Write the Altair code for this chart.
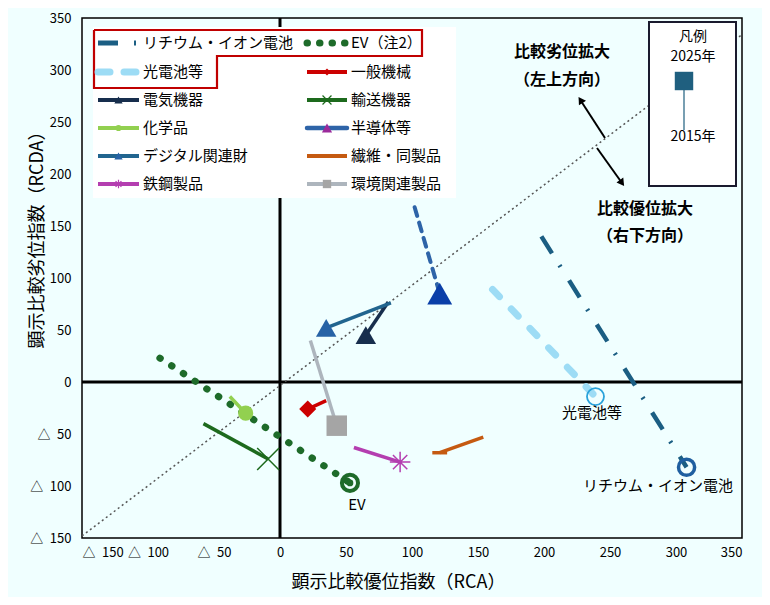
import altair as alt
import pandas as pd

# 2015 -> 2025 positions (RCA, RCDA)
series = ["リチウム・イオン電池", "光電池等", "EV", "一般機械", "電気機器", "輸送機器",
          "化学品", "半導体等", "デジタル関連財", "繊維・同製品", "鉄鋼製品", "環境関連製品"]
rca_2015 = [198, 161, -91, 35, 82, -58, -38, 102, 84, 154, 56, 23]
rcda_2015 = [140, 89, 23, -18, 77, -40, -14, 168, 76, -53, -63, 40]
rca_2025 = [308, 239, 53, 21, 65, -9, -26, 121, 35, 121, 91, 43]
rcda_2025 = [-82, -14, -97, -26, 45, -74, -30, 85, 52, -68, -77, -42]

legend_labels = ["リチウム・イオン電池", "光電池等", "EV（注2）", "一般機械", "電気機器", "輸送機器",
                 "化学品", "半導体等", "デジタル関連財", "繊維・同製品", "鉄鋼製品", "環境関連製品"]
legend_slot = [(0, 0), (1, 0), (0, 1), (1, 1), (2, 0), (2, 1),
               (3, 0), (3, 1), (4, 0), (4, 1), (5, 0), (5, 1)]

tick_values = list(range(-150, 351, 50))
FONT = "Noto Sans CJK JP"

# line / marker styles per series
X_PATH = "M-1,-1L1,1M-1,1L1,-1"
STAR_PATH = "M-1,0L1,0M0,-1L0,1M-0.7,-0.7L0.7,0.7M-0.7,0.7L0.7,-0.7"
DASH_PATH = "M-1,0L1,0"
style = {
    "リチウム・イオン電池": dict(color="#1B5E83", width=4.5, dash=[20, 14, 2, 16], cap="butt",
                         shape="circle", mcolor="#1F5FA0", size=260, filled=False, msw=3.5,
                         ldash=[20, 16, 2, 60]),
    "光電池等": dict(color="#9DDCF5", width=7, dash=[10, 17], cap="round",
                 shape="circle", mcolor="#2AA2DA", size=290, filled=False, msw=1.8,
                 ldash=[12, 14]),
    "EV": dict(color="#1E6B2A", width=7, dash=[0.5, 13.5], cap="round",
               shape="circle", mcolor="#1E6B2A", size=260, filled=False, msw=4,
               ldash=[0.5, 12]),
    "一般機械": dict(color="#CC0000", width=3.5, dash=None, cap="butt",
                 shape="diamond", mcolor="#CC0000", size=290, filled=True, msw=1),
    "電気機器": dict(color="#172E4D", width=3.5, dash=None, cap="butt",
                 shape="triangle-up", mcolor="#172E4D", size=420, filled=True, msw=1),
    "輸送機器": dict(color="#1D6A1D", width=3.5, dash=None, cap="butt",
                 shape=X_PATH, mcolor="#1D6A1D", size=480, filled=False, msw=1.5),
    "化学品": dict(color="#92D050", width=3.5, dash=None, cap="butt",
                shape="circle", mcolor="#92D050", size=230, filled=True, msw=1),
    "半導体等": dict(color="#2E64A8", width=4, dash=[9, 7], cap="round",
                 shape="triangle-up", mcolor="#0A3FA8", size=620, filled=True, msw=1,
                 lmcolor="#9B2A9B", ldash=None),
    "デジタル関連財": dict(color="#21658F", width=3.5, dash=None, cap="butt",
                    shape="triangle-up", mcolor="#2763A6", size=420, filled=True, msw=1),
    "繊維・同製品": dict(color="#C55A11", width=3.5, dash=None, cap="butt",
                   shape=DASH_PATH, mcolor="#C55A11", size=220, filled=False, msw=3.5),
    "鉄鋼製品": dict(color="#B43EB0", width=3.5, dash=None, cap="butt",
                 shape=STAR_PATH, mcolor="#B43EB0", size=420, filled=False, msw=1.5),
    "環境関連製品": dict(color="#ADB5BD", width=3.5, dash=None, cap="butt",
                   shape="square", mcolor="#A5A5A5", size=420, filled=True, msw=1),
}


# page pixel -> data coords (plot area 82..742 x 18..538)
def fx(px):
    return (px - 82) * 500 / 660 - 150


def fy(py):
    return 350 - (py - 18) * 500 / 520


lab_expr = "datum.value < 0 ? '△\u2002' + abs(datum.value) : datum.value"
xscale = alt.Scale(domain=[-150, 350], nice=False, zero=False)
yscale = alt.Scale(domain=[-150, 350], nice=False, zero=False)
xaxis = alt.Axis(values=tick_values, labelExpr=lab_expr, grid=False, ticks=False, domain=False,
                 labelFontSize=13, labelPadding=8, labelFont=FONT, labelColor="black",
                 title="顕示比較優位指数（RCA）", titleFont=FONT, titleFontSize=18,
                 titleFontWeight="normal", titleColor="black", titleX=316, titleY=44,
                 titleBaseline="middle")
yaxis = alt.Axis(values=tick_values, labelExpr=lab_expr, grid=False, ticks=False, domain=False,
                 labelFontSize=13, labelPadding=11, labelFont=FONT, labelColor="black",
                 title="顕示比較劣位指数（RCDA）", titleFont=FONT, titleFontSize=18,
                 titleFontWeight="normal", titleColor="black", titleX=-45, titleY=217,
                 titleBaseline="middle")


def X(field="x"):
    return alt.X(f"{field}:Q", scale=xscale, axis=xaxis)


def Y(field="y"):
    return alt.Y(f"{field}:Q", scale=yscale, axis=yaxis)


layers = []

# zero lines and 45 degree line
zero = pd.DataFrame({"x": [0, 0], "y": [-150, 350], "x0": [-150, 350], "y0": [0, 0]})
layers.append(alt.Chart(zero).mark_line(color="black", strokeWidth=3).encode(x=X(), y=Y()))
layers.append(alt.Chart(zero).mark_line(color="black", strokeWidth=3).encode(x=X("x0"), y=Y("y0")))
diag = pd.DataFrame({"x": [-150, 350], "y": [-148, 334]})
layers.append(alt.Chart(diag).mark_line(color="#555555", strokeWidth=1.5, strokeDash=[2, 3])
              .encode(x=X(), y=Y()))

# series lines
df = pd.DataFrame({
    "series": series * 2,
    "year": [2015] * len(series) + [2025] * len(series),
    "x": rca_2015 + rca_2025,
    "y": rcda_2015 + rcda_2025,
})
for s in series:
    st = style[s]
    kw = dict(color=st["color"], strokeWidth=st["width"], strokeCap=st["cap"])
    if st["dash"]:
        kw["strokeDash"] = st["dash"]
    sub = df[df.series == s]
    layers.append(alt.Chart(sub).mark_line(**kw).encode(x=X(), y=Y(), order="year:O"))

# end markers (2025)
for s in series:
    st = style[s]
    end = df[(df.series == s) & (df.year == 2025)]
    layers.append(alt.Chart(end).mark_point(shape=st["shape"], size=st["size"], filled=st["filled"],
                                            color=st["mcolor"], strokeWidth=st["msw"], opacity=1)
                  .encode(x=X(), y=Y()))
ev_end = df[(df.series == "EV") & (df.year == 2025)]
layers.append(alt.Chart(ev_end).mark_point(shape="circle", size=45, filled=True, color="#1E6B2A",
                                           opacity=1).encode(x=X(), y=Y()))

# point labels
labels = pd.DataFrame({"x": [fx(357), fx(592), fx(658)], "y": [fy(505), fy(413), fy(486)],
                       "t": ["EV", "光電池等", "リチウム・イオン電池"]})
layers.append(alt.Chart(labels).mark_text(font=FONT, fontSize=15, color="black", baseline="middle")
              .encode(x=X(), y=Y(), text="t:N"))

# direction annotations
ann = pd.DataFrame({"x": [fx(562), fx(562), fx(645), fx(645)],
                    "y": [fy(52), fy(80), fy(209), fy(236)],
                    "t": ["比較劣位拡大", "（左上方向）", "比較優位拡大", "（右下方向）"]})
layers.append(alt.Chart(ann).mark_text(font=FONT, fontSize=16, fontWeight="bold", color="black",
                                       baseline="middle").encode(x=X(), y=Y(), text="t:N"))
arrows = pd.DataFrame({"x": [fx(581), fx(605), fx(597), fx(622)],
                       "y": [fy(101), fy(138), fy(148), fy(183)],
                       "g": ["a", "a", "b", "b"]})
layers.append(alt.Chart(arrows).mark_line(color="black", strokeWidth=2)
              .encode(x=X(), y=Y(), detail="g:N"))
heads = pd.DataFrame({"x": [fx(580.5)], "y": [fy(100)]})
layers.append(alt.Chart(heads).mark_point(shape="triangle-up", size=70, filled=True, color="black",
                                          opacity=1, angle=327).encode(x=X(), y=Y()))
heads2 = pd.DataFrame({"x": [fx(622)], "y": [fy(183)]})
layers.append(alt.Chart(heads2).mark_point(shape="triangle-up", size=70, filled=True, color="black",
                                           opacity=1, angle=144).encode(x=X(), y=Y()))

# left legend box
box = pd.DataFrame({"x": [fx(93)], "x2": [fx(456)], "y": [fy(27)], "y2": [fy(198)]})
layers.append(alt.Chart(box).mark_rect(fill="white").encode(x=X(), x2="x2:Q", y=Y(), y2="y2:Q"))
red = pd.DataFrame({"x": [fx(v) for v in [94, 422, 422, 217, 217, 94, 94]],
                    "y": [fy(v) for v in [30, 30, 56, 56, 88, 88, 30]],
                    "o": list(range(7))})
layers.append(alt.Chart(red).mark_line(color="#C00000", strokeWidth=2.2)
              .encode(x=X(), y=Y(), order="o:Q"))

row_y = [43, 72, 100, 128, 156, 184]
col_line = [(98, 139), (307, 347)]
col_text = [143, 351]
for i, s in enumerate(series):
    st = style[s]
    r, c = legend_slot[i]
    x0, x1 = col_line[c]
    yy = fy(row_y[r])
    seg = pd.DataFrame({"x": [fx(x0), fx(x1)], "y": [yy, yy]})
    kw = dict(color=st["color"], strokeWidth=min(st["width"] + 0.5, 7),
              strokeCap=st["cap"])
    ld = st.get("ldash", st["dash"])
    if ld:
        kw["strokeDash"] = ld
    layers.append(alt.Chart(seg).mark_line(**kw).encode(x=X(), y=Y()))
    if s not in ("リチウム・イオン電池", "光電池等", "EV"):
        mid = pd.DataFrame({"x": [fx((x0 + x1) / 2)], "y": [yy]})
        layers.append(alt.Chart(mid).mark_point(shape=st["shape"], size=st["size"] / 6,
                                                filled=st["filled"],
                                                color=st.get("lmcolor", st["mcolor"]),
                                                strokeWidth=1.2, opacity=1)
                      .encode(x=X(), y=Y()))
    txt = pd.DataFrame({"x": [fx(col_text[c])], "y": [yy], "t": [legend_labels[i]]})
    layers.append(alt.Chart(txt).mark_text(font=FONT, fontSize=15, color="black", align="left",
                                           baseline="middle").encode(x=X(), y=Y(), text="t:N"))

# top-right key box
key = pd.DataFrame({"x": [fx(649)], "x2": [fx(736)], "y": [fy(22)], "y2": [fy(186)]})
layers.append(alt.Chart(key).mark_rect(fill="white", stroke="#1A1A2E", strokeWidth=2)
              .encode(x=X(), x2="x2:Q", y=Y(), y2="y2:Q"))
key_line = pd.DataFrame({"x": [fx(684), fx(684)], "y": [fy(81), fy(130)]})
layers.append(alt.Chart(key_line).mark_line(color="#1F5F7F", strokeWidth=1.2).encode(x=X(), y=Y()))
key_sq = pd.DataFrame({"x": [fx(684)], "y": [fy(81)]})
layers.append(alt.Chart(key_sq).mark_point(shape="square", size=340, filled=True, color="#1F5F7F",
                                           opacity=1).encode(x=X(), y=Y()))
key_txt = pd.DataFrame({"x": [fx(693), fx(693), fx(693)], "y": [fy(37), fy(57), fy(137)],
                        "t": ["凡例", "2025年", "2015年"]})
layers.append(alt.Chart(key_txt).mark_text(font=FONT, fontSize=14, color="black", baseline="middle")
              .encode(x=X(), y=Y(), text="t:N"))

chart = alt.layer(*layers).properties(
    width=660, height=520,
    autosize=alt.AutoSizeParams(type="none"),
    padding={"left": 74, "top": 10, "right": 20, "bottom": 59},
    background="#F0FFFF",
).configure_view(stroke="black", strokeWidth=1.5)

chart.save("out.html", embed_options={"renderer": "svg", "actions": False})
